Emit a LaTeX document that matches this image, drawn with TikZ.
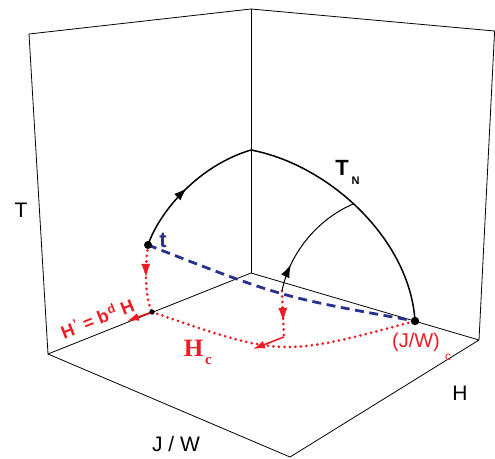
\documentclass[tikz,border=0pt]{standalone}
\usepackage{fontspec}
\setmainfont{Liberation Sans}
\newfontfamily\serifbf{Liberation Serif}
\usetikzlibrary{arrows.meta,decorations.markings}
\definecolor{pr}{RGB}{237,28,36}
\definecolor{pb}{RGB}{40,50,140}
\begin{document}
\begin{tikzpicture}[x=1pt,y=-1pt,
  box/.style={line width=0.8pt,black},
  tncurve/.style={line width=1.5pt,black},
  thincurve/.style={line width=1.0pt,black},
  reddot/.style={pr,line width=3pt,line cap=round,dash pattern=on 0pt off 5.5pt},
  bluedash/.style={pb,line width=2.8pt,dash pattern=on 9pt off 5.5pt},
  redarrow/.style={pr,line width=1.6pt,-{Latex[length=12pt,width=8pt]}},
  midarrow/.style={postaction={decorate},decoration={markings,mark=at position #1 with {\arrow{Latex[length=13pt,width=9pt]}}}},
  lbl/.style={inner sep=0pt,font=\fontsize{21}{21}\selectfont}]
\useasboundingbox (0,0) rectangle (495,458);
% box corners
\coordinate (BT) at (251,9);
\coordinate (O) at (251,273);
\coordinate (LT) at (29,34);
\coordinate (LB) at (48,354);
\coordinate (RT) at (494.6,31);
\coordinate (RB) at (479,340);
\coordinate (F) at (290,457);
\draw[box] (LB) -- (LT) -- (BT) -- (RT) -- (RB) -- (F) -- (LB) -- (O) -- (RB);
\draw[box] (BT) -- (O);
% key points
\coordinate (P) at (148,245);
\coordinate (Q) at (415,321);
\coordinate (Top) at (251,150);
\coordinate (M) at (282,291);
\coordinate (N) at (353,204);
\coordinate (S) at (152,312);
\coordinate (U) at (284,337);
% red dotted paths
\draw[reddot] (P) .. controls (144,275) and (146,300) .. (S);
\draw[reddot] (S) .. controls (282,357) .. (Q);
\draw[reddot] (M) -- (U);
\path[midarrow=0.47,pr] (P) .. controls (144,275) and (146,300) .. (S);
\path[midarrow=0.65,pr] (M) -- (U);
% red arrows
\coordinate (S2) at (127,321);
\coordinate (U2) at (253,349);
\draw[redarrow] (S) -- (S2);
\draw[redarrow] (U) -- (U2);
% blue dashed
\draw[bluedash] (P) .. controls (281,297) .. (Q);
% black arcs
\draw[tncurve] (Top) .. controls (330,165) and (410,240) .. (Q);
\draw[tncurve,midarrow=0.48] (P) .. controls (160,210) and (200,165) .. (Top);
\draw[thincurve,midarrow=0.24] (M) .. controls (289,255) and (316,220) .. (N);
% dots
\fill[black] (P) circle (4pt);
\fill[black] (Q) circle (4.2pt);
\fill[black] (S) circle (2.7pt);
% labels
\node[lbl] (lT) at (21,210) {T};
\node[lbl] (lH) at (460,393) {H};
\node[lbl] (lJW) at (176,444) {J / W};
\node[lbl,font=\fontsize{22}{22}\selectfont\bfseries] (lTN) at (342,167.5) {T};
\node[inner sep=0pt,font=\fontsize{11}{11}\selectfont\bfseries] (lTNs) at (355.5,180.5) {N};
\node[inner sep=0pt,pb,font=\fontsize{22}{22}\selectfont\bfseries] (lt) at (163,240) {t};
\node[inner sep=0pt,pr,font=\fontsize{20}{20}\selectfont] (lJWc) at (416,342) {(J/W)};
\node[inner sep=0pt,pr,font=\fontsize{12}{12}\selectfont] (lJWcs) at (448,357) {c};
\node[inner sep=0pt,pr,font=\fontsize{25}{25}\selectfont\serifbf\bfseries] (lHc) at (193.5,348) {H};
\node[inner sep=0pt,pr,font=\fontsize{15}{15}\selectfont\serifbf\bfseries] (lHcs) at (208.5,361) {c};
\node[inner sep=0pt,pr,rotate=22,font=\fontsize{18}{18}\selectfont\bfseries] (lHp) at (97,318) {H\kern1.5pt\textsuperscript{\char"0027} = b\kern1pt\textsuperscript{d} H};
\end{tikzpicture}
\end{document}
